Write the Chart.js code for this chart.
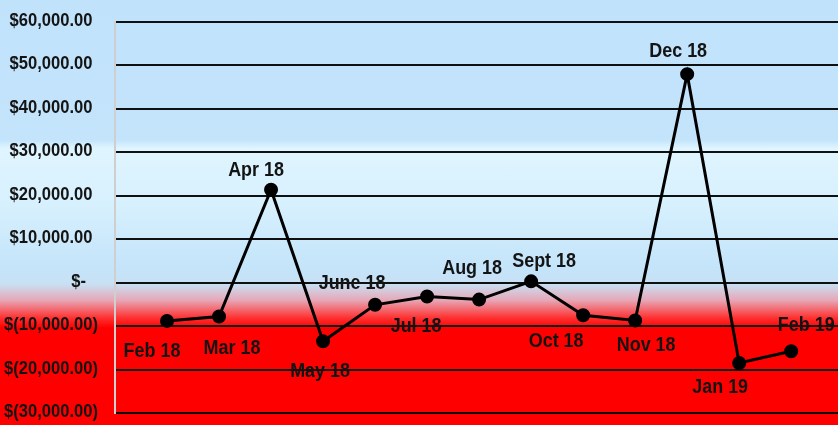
<!DOCTYPE html>
<html>
<head>
<meta charset="utf-8">
<script src="https://cdn.jsdelivr.net/npm/chart.js@4"></script>
<style>
    html, body {
        margin: 0;
        padding: 0;
    }
    body {
        width: 838px;
        height: 425px;
        overflow: hidden;
        background: linear-gradient(to bottom,
            #c0e2fb 0px, #c3e4fb 140px, #dff5ff 148px, #d8f1fe 200px,
            #c4e4fa 268px, #c8e0f4 284px, #e6a8b8 300px, #ff3030 318px, #ff0000 328px, #ff0000 425px);
    }
    #wrap {
        width: 838px;
        height: 425px;
    }
</style>
</head>
<body>
<div id="wrap"><canvas id="profit-chart"></canvas></div>
<script>
const months = ['Feb 18', 'Mar 18', 'Apr 18', 'May 18', 'June 18', 'Jul 18', 'Aug 18',
    'Sept 18', 'Oct 18', 'Nov 18', 'Dec 18', 'Jan 19', 'Feb 19'];
const profit = [-8800, -7800, 21400, -13500, -5100, -3200, -3900,
    300, -7500, -8700, 48000, -18500, -15800];
const yTicks = [-30000, -20000, -10000, 0, 10000, 20000, 30000, 40000, 50000, 60000];

// where each month label sits relative to its point
const labelOffsets = [
    [-15, 31], [13, 32], [-15, -19], [-3, 30], [-23, -21], [-11, 30], [-7, -31],
    [13, -20], [-27, 26], [11, 25], [-9, -23], [-19, 25], [15, -26]
];

const fontFamily = "'Liberation Sans', Arial, sans-serif";
const squeeze = 0.92; // the original uses a narrow face (Calibri-like)

const formatMoney = (v) => {
    if (v === 0) return '$-';
    const s = Math.abs(v).toLocaleString('en-US', { minimumFractionDigits: 2, maximumFractionDigits: 2 });
    return v < 0 ? `$(${s})` : `$${s}`;
};

// draw text squeezed horizontally so it looks like the narrow original font
const drawNarrow = (ctx, text, x, y, align) => {
    ctx.save();
    ctx.translate(x, y);
    ctx.scale(squeeze, 1);
    ctx.textAlign = align;
    ctx.fillText(text, 0, 0);
    ctx.restore();
};

const moneyTicks = {
    id: 'moneyTicks',
    afterDraw(chart) {
        const ctx = chart.ctx;
        const yScale = chart.scales.y;
        const right = yScale.right - 17;
        ctx.save();
        ctx.font = `bold 18px ${fontFamily}`;
        ctx.fillStyle = '#141414';
        ctx.textBaseline = 'middle';
        const parenW = ctx.measureText(')').width * squeeze;
        yTicks.forEach(v => {
            const y = yScale.getPixelForValue(v) - 1;
            let x = right;
            if (v > 0) x -= parenW;
            if (v === 0) x -= 12;
            drawNarrow(ctx, formatMoney(v), x, y, 'right');
        });
        ctx.restore();
    }
};

const monthLabels = {
    id: 'monthLabels',
    afterDatasetsDraw(chart) {
        const ctx = chart.ctx;
        const meta = chart.getDatasetMeta(0);
        ctx.save();
        ctx.font = `bold 19.5px ${fontFamily}`;
        ctx.fillStyle = '#141414';
        ctx.textBaseline = 'middle';
        meta.data.forEach((pt, i) => {
            const [dx, dy] = labelOffsets[i];
            drawNarrow(ctx, months[i], pt.x + dx, pt.y + dy, 'center');
        });
        ctx.restore();
    }
};

const ctx = document.getElementById('profit-chart').getContext('2d');
new Chart(ctx, {
    type: 'line',
    data: {
        datasets: [{
            label: 'Profit',
            data: profit.map((v, i) => ({ x: i + 1, y: v })),
            borderColor: '#000',
            backgroundColor: '#000',
            borderWidth: 3,
            pointRadius: 5.5,
            pointHoverRadius: 5.5,
            tension: 0,
            clip: false
        }]
    },
    options: {
        responsive: true,
        maintainAspectRatio: false,
        animation: false,
        layout: {
            autoPadding: false,
            padding: { top: 22, bottom: 12, left: 0, right: 0 }
        },
        plugins: {
            legend: { display: false },
            tooltip: { enabled: false }
        },
        scales: {
            x: {
                type: 'linear',
                display: false,
                min: 0,
                max: 13.9
            },
            y: {
                min: -30000,
                max: 60000,
                afterBuildTicks: (scale) => {
                    scale.ticks = yTicks.map(v => ({ value: v }));
                },
                afterFit: (scale) => {
                    scale.width = 115;
                    scale.paddingTop = 0;
                    scale.paddingBottom = 0;
                },
                grid: {
                    color: '#101010',
                    lineWidth: 2,
                    drawTicks: false
                },
                border: {
                    display: true,
                    color: '#cfcfcf',
                    width: 2
                },
                ticks: {
                    display: false
                }
            }
        }
    },
    plugins: [monthLabels, moneyTicks]
});
</script>
</body>
</html>
